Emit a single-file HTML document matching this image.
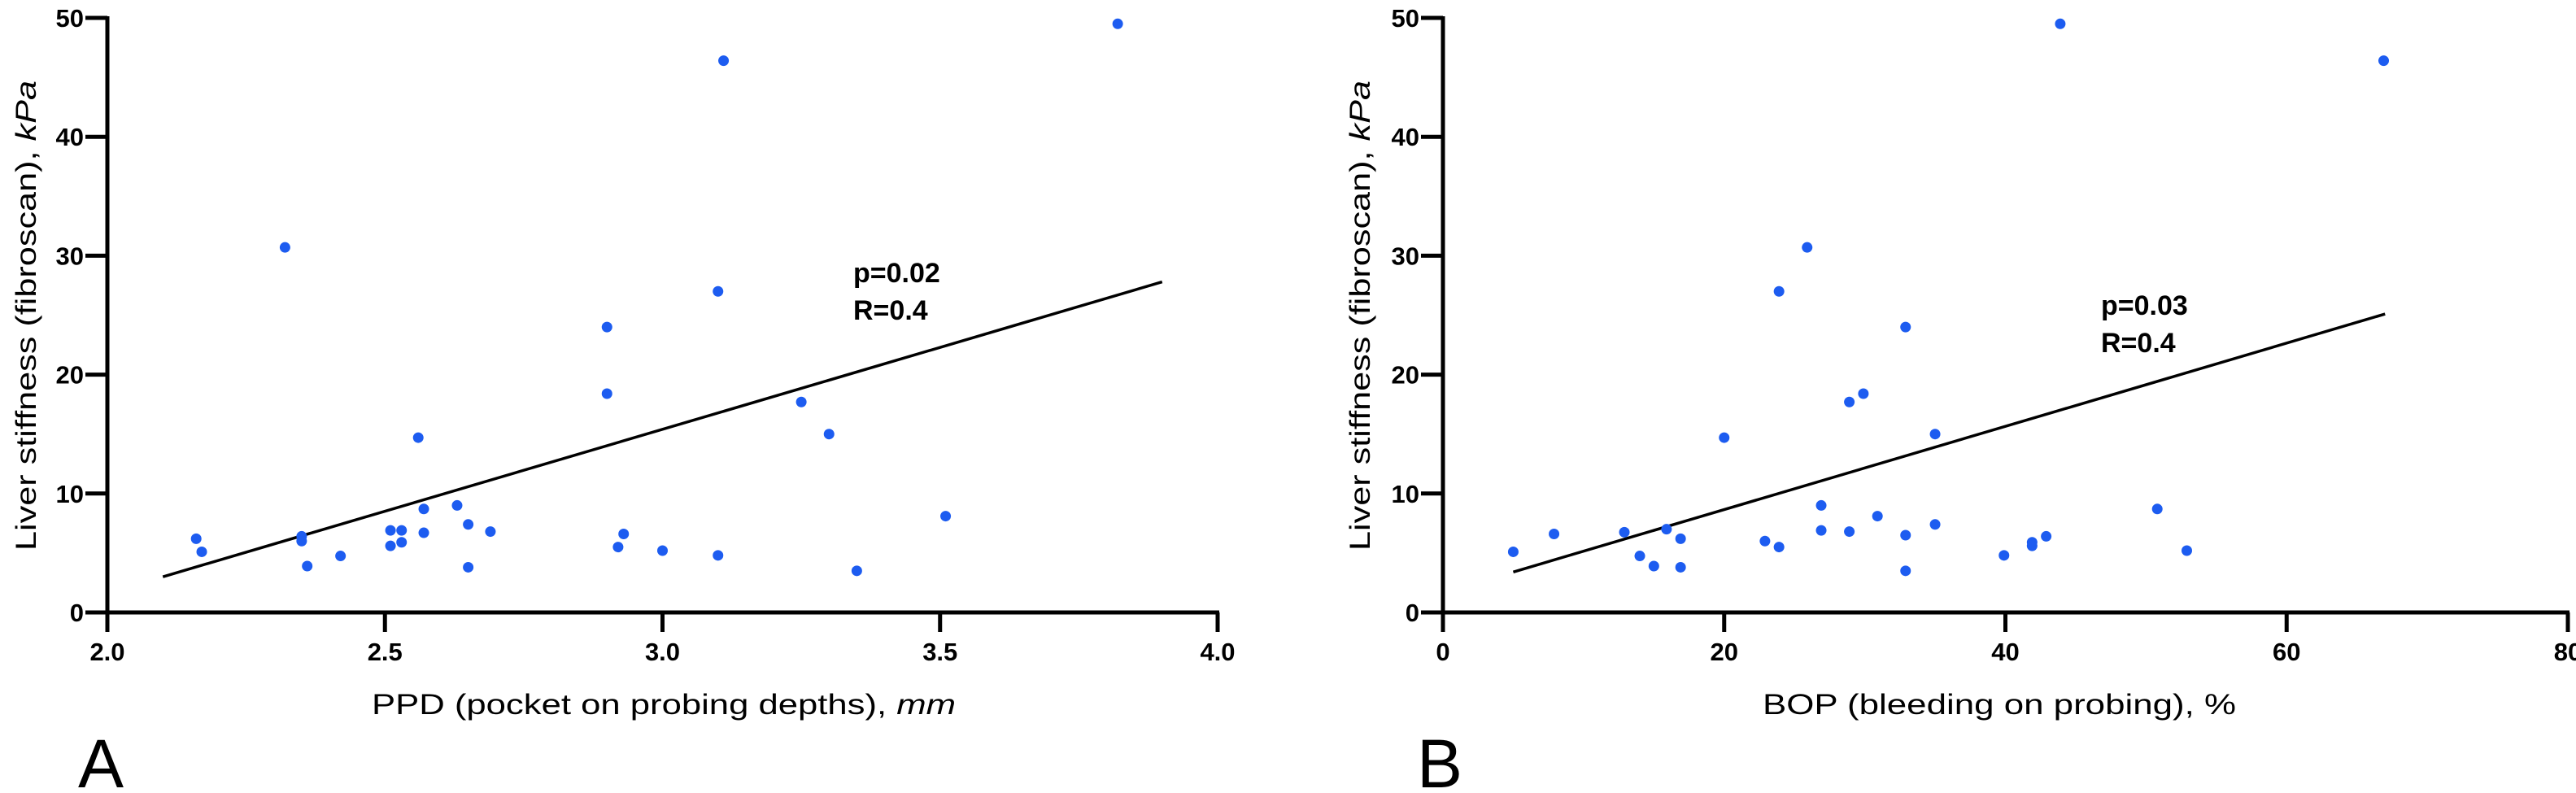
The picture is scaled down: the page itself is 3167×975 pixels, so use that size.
<!DOCTYPE html>
<html><head><meta charset="utf-8"><style>
html,body{margin:0;padding:0;background:#fff;}
svg{display:block;font-family:"Liberation Sans",sans-serif;}
</style></head><body>
<svg id="chart" width="3167" height="975" viewBox="0 0 3167 975"></svg>
<script>
// Panel A data
const aX = [2.16,2.17,2.32,2.35,2.35,2.36,2.42,2.51,2.51,2.53,2.53,2.56,2.57,2.57,2.63,2.65,2.65,2.69,2.90,2.90,2.92,2.93,3.00,3.10,3.10,3.11,3.25,3.30,3.35,3.51,3.82];
const aY = [6.2,5.1,30.7,6.4,6.0,3.9,4.75,6.9,5.6,6.9,5.9,14.7,8.7,6.7,9.0,7.4,3.8,6.8,24.0,18.4,5.5,6.6,5.2,27.0,4.8,46.4,17.7,15.0,3.5,8.1,49.5];
const aFitX = [2.1,3.9];
const aFitY = [3.0,27.8];
const aXTicks = [2.0,2.5,3.0,3.5,4.0];
const aXTickLabels = ["2.0","2.5","3.0","3.5","4.0"];
// Panel B data
const bX = [5.0,7.9,12.9,14.0,15.0,15.9,16.9,16.9,20.0,22.9,23.9,23.9,25.9,26.9,26.9,28.9,28.9,29.9,30.9,32.9,32.9,32.9,35.0,35.0,39.9,41.9,41.9,42.9,43.9,50.8,52.9,66.9];
const bY = [5.1,6.6,6.75,4.75,3.9,7.0,6.2,3.8,14.7,6.0,5.5,27.0,30.7,9.0,6.9,17.7,6.8,18.4,8.1,24.0,6.5,3.5,15.0,7.4,4.8,5.9,5.6,6.4,49.5,8.7,5.2,46.4];
const bFitX = [5,67];
const bFitY = [3.4,25.1];
const bXTicks = [0,20,40,60,80];
const bXTickLabels = ["0","20","40","60","80"];
const yTicks = [0,10,20,30,40,50];
const yTickLabels = ["0","10","20","30","40","50"];

const NS="http://www.w3.org/2000/svg";
const svg=document.getElementById('chart');
function mk(tag,attrs,parent){const e=document.createElementNS(NS,tag);for(const k in attrs)e.setAttribute(k,attrs[k]);(parent||svg).appendChild(e);return e;}

function panel(cfg){
  const g=mk('g',{});
  
  
  const sx=v=>cfg.x0+(v-cfg.xmin)/(cfg.xmax-cfg.xmin)*(cfg.x1-cfg.x0);
  const sy=v=>753-(v/50)*(753-22);
  const ya=mk('line',{x1:cfg.x0,y1:20,x2:cfg.x0,y2:755,stroke:'#000','stroke-width':5},g);
  
  
  const xa=mk('line',{x1:cfg.x0-2,y1:753,x2:cfg.x1+2,y2:753,stroke:'#000','stroke-width':5},g);
  
  
  yTicks.forEach((t,i)=>{
    const y=sy(t);
    const tk=mk('line',{x1:cfg.x0-27,y1:y,x2:cfg.x0,y2:y,stroke:'#000','stroke-width':5},g);
    
    
    const tx=mk('text',{x:cfg.x0-29,y:y+11,'text-anchor':'end','font-size':31,'font-weight':'bold'},g);
    tx.textContent=yTickLabels[i];
    
    
  });
  cfg.xt.forEach((t,i)=>{
    const x=sx(t);
    const tk=mk('line',{x1:x,y1:753,x2:x,y2:777,stroke:'#000','stroke-width':5},g);
    
    
    const tx=mk('text',{x:x,y:812,'text-anchor':'middle','font-size':31,'font-weight':'bold'},g);
    tx.textContent=cfg.xl[i];
    
    
  });
  const fl=mk('line',{x1:sx(cfg.fx[0]),y1:sy(cfg.fy[0]),x2:sx(cfg.fx[1]),y2:sy(cfg.fy[1]),stroke:'#000','stroke-width':3.5},g);
  
  
  cfg.px.forEach((v,i)=>{
    const c=mk('circle',{cx:sx(v),cy:sy(cfg.py[i]),r:6.5,fill:'#1d5cf0'},g);
    
    
  });
  const p=mk('text',{x:cfg.ax,y:cfg.ay,'font-size':34,'font-weight':'bold'},g);
  p.textContent=cfg.pt;
  
  
  const r=mk('text',{x:cfg.ax,y:cfg.ay+46,'font-size':34,'font-weight':'bold'},g);
  r.textContent='R=0.4';
  
  
  const xt=mk('text',{x:cfg.xtx,y:878,'text-anchor':'middle','font-size':35,textLength:cfg.xtl,lengthAdjust:'spacingAndGlyphs'},g);
  xt.innerHTML=cfg.xtitle;
  
  
  const yt=mk('text',{x:0,y:0,'text-anchor':'middle','font-size':35,textLength:578,lengthAdjust:'spacingAndGlyphs',transform:'translate('+(cfg.ytx)+',388) rotate(-90)'},g);
  yt.innerHTML='Liver stiffness (fibroscan), <tspan font-style="italic">kPa</tspan>';
  
  
  const pl=mk('text',{x:cfg.lx,y:968,'font-size':84},g);
  pl.textContent=cfg.letter;
  
  
}

panel({name:'panel-a',x0:132,x1:1497,xmin:2,xmax:4,xt:aXTicks,xl:aXTickLabels,px:aX,py:aY,fx:aFitX,fy:aFitY,
  ax:1049,ay:347,pt:'p=0.02',xtx:816,xtl:718,xtitle:'PPD (pocket on probing depths), <tspan font-style="italic">mm</tspan>',ytx:44,lx:96,letter:'A'});
panel({name:'panel-b',x0:1774,x1:3157,xmin:0,xmax:80,xt:bXTicks,xl:bXTickLabels,px:bX,py:bY,fx:bFitX,fy:bFitY,
  ax:2583,ay:387,pt:'p=0.03',xtx:2458,xtl:582,xtitle:'BOP (bleeding on probing), %',ytx:1684,lx:1742,letter:'B'});
</script>
</body></html>
